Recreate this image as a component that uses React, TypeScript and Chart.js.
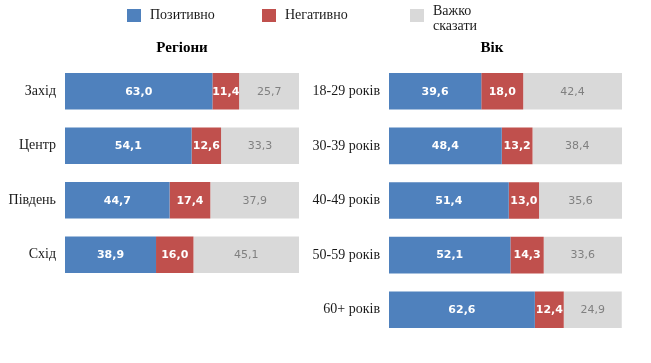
import React, { useEffect, useRef } from "react";
import { Chart, registerables } from "chart.js";

Chart.register(...registerables);

const seriesNames = ["Позитивно", "Негативно", "Важко сказати"];
const seriesColors = ["#4F81BD", "#C0504D", "#D9D9D9"];
const labelColors = ["#FFFFFF", "#FFFFFF", "#808080"];

const regionTitle = "Регіони";
const regions = ["Захід", "Центр", "Південь", "Схід"];
const regPositive = [63.0, 54.1, 44.7, 38.9];
const regNegative = [11.4, 12.6, 17.4, 16.0];
const regHard = [25.7, 33.3, 37.9, 45.1];

const ageTitle = "Вік";
const ages = ["18-29 років", "30-39 років", "40-49 років", "50-59 років", "60+ років"];
const agePositive = [39.6, 48.4, 51.4, 52.1, 62.6];
const ageNegative = [18.0, 13.2, 13.0, 14.3, 12.4];
const ageHard = [42.4, 38.4, 35.6, 33.6, 24.9];

const SERIF = "'Liberation Serif', 'Times New Roman', serif";
const SANS = "'DejaVu Sans', Verdana, sans-serif";

const valueLabels = {
  id: "valueLabels",
  afterDatasetsDraw(chart: any) {
    const ctx = chart.ctx;
    ctx.save();
    ctx.textAlign = "center";
    ctx.textBaseline = "middle";
    chart.data.datasets.forEach((ds: any, i: number) => {
      const meta = chart.getDatasetMeta(i);
      ctx.font = (i < 2 ? "bold " : "") + "11px " + SANS;
      ctx.fillStyle = labelColors[i];
      meta.data.forEach((el: any, j: number) => {
        const v = ds.data[j];
        const x = (el.x + el.base) / 2;
        ctx.fillText(v.toFixed(1).replace(".", ","), x, el.y + 0.5);
      });
    });
    ctx.restore();
  },
};

function makeConfig(title: string, cats: string[], a: number[], b: number[], c: number[], yWidth: number, rightWidth: number) {
  const sets = [a, b, c];
  return {
    type: "bar" as const,
    data: {
      labels: cats,
      datasets: sets.map((d, i) => ({
        label: seriesNames[i],
        data: d,
        backgroundColor: seriesColors[i],
        borderWidth: 0,
        barPercentage: 0.67,
        categoryPercentage: 1,
      })),
    },
    options: {
      indexAxis: "y" as const,
      responsive: false,
      animation: false as const,
      events: [],
      layout: { padding: { top: 33, right: 0, bottom: 8, left: 0 } },
      plugins: {
        legend: { display: false },
        tooltip: { enabled: false },
        title: {
          display: true,
          text: title,
          color: "#000000",
          fullSize: true,
          font: { family: SERIF, size: 15, weight: "bold" as const },
          padding: { top: 6, bottom: 7 },
        },
      },
      scales: {
        x: { stacked: true, display: false, min: 0, max: 100 },
        y: {
          stacked: true,
          grid: { display: false },
          border: { display: false },
          ticks: { color: "#1a1a1a", font: { family: SERIF, size: 14 }, padding: 1 },
          afterFit: (s: any) => {
            s.width = yWidth;
            s.paddingTop = 0;
            s.paddingBottom = 0;
          },
        },
        yRight: {
          type: "category" as const,
          position: "right" as const,
          labels: cats,
          grid: { display: false },
          border: { display: false },
          ticks: { display: false },
          afterFit: (s: any) => {
            s.width = rightWidth;
            s.paddingTop = 0;
            s.paddingBottom = 0;
          },
        },
      },
    },
    plugins: [valueLabels],
  };
}

function Panel(props: { left: number; width: number; height: number; config: any }) {
  const ref = useRef<HTMLCanvasElement | null>(null);
  useEffect(() => {
    const chart = new Chart(ref.current as HTMLCanvasElement, props.config);
    return () => chart.destroy();
  }, []);
  return (
    <canvas
      ref={ref}
      width={props.width}
      height={props.height}
      style={{ position: "absolute", left: props.left, top: 0, width: props.width, height: props.height }}
    />
  );
}

function LegendItem(props: { x: number; color: string; lines: string[] }) {
  return (
    <div style={{ position: "absolute", left: props.x, top: 0 }}>
      <div style={{ position: "absolute", left: 0, top: 9, width: 14, height: 13, background: props.color }} />
      <div
        style={{
          position: "absolute",
          left: 23,
          top: props.lines.length > 1 ? 3 : 7,
          fontFamily: SERIF,
          fontSize: 14,
          lineHeight: props.lines.length > 1 ? "15px" : "16px",
          color: "#1a1a1a",
          whiteSpace: "nowrap",
        }}
      >
        {props.lines.map((l, i) => (
          <div key={i}>{l}</div>
        ))}
      </div>
    </div>
  );
}

export default function App() {
  const left = makeConfig(regionTitle, regions, regPositive, regNegative, regHard, 65, 65);
  const right = makeConfig(ageTitle, ages, agePositive, ageNegative, ageHard, 89, 62);
  return (
    <div
      style={{
        position: "fixed",
        left: 0,
        top: 0,
        width: 651,
        height: 363,
        overflow: "hidden",
        background: "#ffffff",
      }}
    >
      <Panel left={0} width={364} height={290} config={left} />
      <Panel left={300} width={384} height={345} config={right} />
      <LegendItem x={127} color={seriesColors[0]} lines={[seriesNames[0]]} />
      <LegendItem x={262} color={seriesColors[1]} lines={[seriesNames[1]]} />
      <LegendItem x={410} color={seriesColors[2]} lines={["Важко", "сказати"]} />
    </div>
  );
}
